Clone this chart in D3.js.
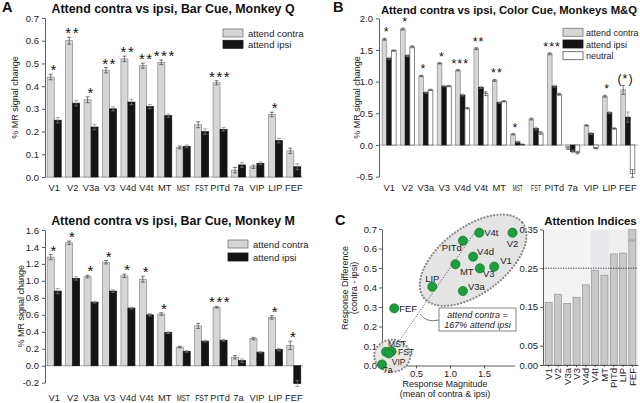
<!DOCTYPE html>
<html>
<head>
<meta charset="utf-8">
<script src="https://cdn.jsdelivr.net/npm/d3@7"></script>
<style>
  body { margin: 0; background: #fff; }
  svg { display: block; font-family: "Liberation Sans", Arial, sans-serif; }
  .axis text { font-size: 9.5px; fill: #222; }
  .axis path, .axis line { stroke: #333; stroke-width: 0.8; }
</style>
</head>
<body>
<svg id="fig" width="640" height="403"></svg>
<script>
// ---- data ----
const areas = ["V1","V2","V3a","V3","V4d","V4t","MT","MST","FST","PITd","7a","VIP","LIP","FEF"];

// A (top): bar cue, monkey Q
const qContra    = [0.44,0.60,0.34,0.47,0.52,0.49,0.505,0.13,0.23,0.415,0.03,0.045,0.275,0.115];
const qContraErr = [0.012,0.015,0.013,0.012,0.012,0.011,0.01,0.006,0.013,0.009,0.012,0.007,0.01,0.012];
const qIpsi      = [0.25,0.325,0.22,0.30,0.33,0.31,0.27,0.135,0.20,0.21,0.053,0.06,0.16,0.045];
const qIpsiErr   = [0.012,0.012,0.012,0.009,0.012,0.009,0.007,0.006,0.012,0.008,0.01,0.006,0.01,0.013];
const qStars     = ["*","**","*","**","**","**","***","","","***","","","*",""];
const qTicks     = [0,0.1,0.2,0.3,0.4,0.5,0.6,0.7];

// A (bottom): bar cue, monkey M
const mContra    = [1.28,1.45,1.05,1.22,1.06,1.02,0.61,0.22,0.47,0.69,0.10,0.32,0.57,0.24];
const mContraErr = [0.03,0.02,0.015,0.02,0.02,0.035,0.015,0.01,0.03,0.01,0.02,0.015,0.02,0.05];
const mIpsi      = [0.88,1.03,0.75,0.88,0.68,0.60,0.39,0.17,0.29,0.30,0.06,0.16,0.19,-0.21];
const mIpsiErr   = [0.03,0.02,0.01,0.015,0.01,0.015,0.01,0.01,0.01,0.01,0.02,0.01,0.015,0.035];
const mStars     = ["*","*","*","*","*","*","*","","","***","","","*","*"];
const mTicks     = [-0.2,0,0.2,0.4,0.6,0.8,1.0,1.2,1.4,1.6];

// B: color cue, monkeys M&Q
const cContra     = [1.67,1.83,1.09,1.29,1.18,1.52,1.02,0.17,0.41,1.44,-0.05,0.31,0.77,0.87];
const cContraErr  = [0.015,0.015,0.01,0.01,0.01,0.015,0.015,0.01,0.015,0.015,0.02,0.01,0.015,0.07];
const cIpsi       = [1.37,1.41,0.83,0.93,0.79,0.91,0.67,0.05,0.26,0.93,-0.10,0.18,0.51,0.44];
const cIpsiErr    = [0.015,0.015,0.01,0.01,0.015,0.015,0.01,0.01,0.02,0.015,0.02,0.015,0.015,0.08];
const cNeutral    = [1.49,1.55,0.87,0.93,0.58,0.81,0.69,0.01,0.19,0.80,-0.12,-0.05,0.26,-0.45];
const cNeutralErr = [0.01,0.015,0.01,0.01,0.01,0.03,0.01,0.005,0.02,0.015,0.02,0.01,0.01,0.06];
const cStars      = ["*","*","*","*","***","**","**","*","","***","","","*","(*)"];
const cTicks      = [-0.5,0,0.5,1.0,1.5,2.0];

// C: scatter, magnitude vs difference
const scatterNames = ["V1","V2","V3a","V3","V4d","V4t","MT","MST","FST","PITd","7a","VIP","LIP","FEF"];
const scatterMag   = [1.65,1.92,1.19,1.44,1.34,1.43,1.08,0.06,0.14,1.19,0.0,0.10,0.74,0.18];
const scatterDiff  = [0.507,0.681,0.382,0.498,0.558,0.681,0.519,0.07,0.072,0.64,0.005,0.062,0.404,0.293];
const scatterXTicks = [0.5,1.0,1.5];
const scatterYTicks = [0,0.1,0.2,0.3,0.4,0.5,0.6,0.7];
const ratioLine = [[0.12,0.06],[1.4,0.7]];   // contra = 167% ipsi  ->  diff = 0.5 * mean

// C: attention indices
const indexNames  = ["V1","V2","V3a","V3","V4d","V4t","MT","PITd","LIP","FEF"];
const indexValues = [0.162,0.183,0.159,0.175,0.207,0.244,0.232,0.287,0.289,0.35];
const indexTicks  = [0,0.05,0.15,0.25,0.35];
const indexRef    = 0.25;

// ---- drawing ----
const svg = d3.select("#fig");
svg.append("rect").attr("width", 640).attr("height", 403).attr("fill", "#fff");

const fmt1 = d => d.toFixed(1);
const narrow = {MST: true, FST: true};

function text(x, y, s, size, opts) {
  opts = opts || {};
  return svg.append("text")
    .attr("x", x).attr("y", y)
    .attr("font-size", size)
    .attr("font-weight", opts.bold ? "bold" : null)
    .attr("font-style", opts.italic ? "italic" : null)
    .attr("text-anchor", opts.anchor || "start")
    .attr("fill", "#111")
    .text(s);
}

function barPanel(p) {
  const x = d3.scaleBand().domain(areas).range([p.left, p.right])
      .paddingInner(p.padInner).paddingOuter(p.padOuter);
  const y = d3.scaleLinear().domain(p.domain).range([p.bottom, p.top]);
  const sub = d3.scaleBand().domain(d3.range(p.series.length)).range([0, x.bandwidth()]);
  const g = svg.append("g");

  // zero line
  g.append("line")
    .attr("x1", p.left).attr("x2", p.right)
    .attr("y1", y(0)).attr("y2", y(0))
    .attr("stroke", "#888").attr("stroke-width", 0.7);

  p.series.forEach((s, k) => {
    const bars = g.append("g");
    areas.forEach((a, i) => {
      const v = s.values[i], e = s.errs[i];
      const bx = x(a) + sub(k), bw = sub.bandwidth();
      bars.append("rect")
        .attr("x", bx).attr("width", bw)
        .attr("y", y(Math.max(0, v)))
        .attr("height", Math.abs(y(v) - y(0)))
        .attr("fill", s.fill).attr("stroke", s.stroke).attr("stroke-width", 0.7);
      const cx = bx + bw / 2, cw = Math.min(2, bw / 2 - 0.5);
      const eb = bars.append("g").attr("stroke", s.errColor).attr("stroke-width", 0.7);
      eb.append("line").attr("x1", cx).attr("x2", cx).attr("y1", y(v - e)).attr("y2", y(v + e));
      eb.append("line").attr("x1", cx - cw).attr("x2", cx + cw).attr("y1", y(v + e)).attr("y2", y(v + e));
      eb.append("line").attr("x1", cx - cw).attr("x2", cx + cw).attr("y1", y(v - e)).attr("y2", y(v - e));
    });
  });

  // significance stars above contra + ipsi pair
  areas.forEach((a, i) => {
    if (!p.stars[i]) return;
    const top = p.series[0].values[i] + p.series[0].errs[i];
    g.append("text")
      .attr("x", x(a) + sub.step()).attr("y", y(top) + p.starDy)
      .attr("text-anchor", "middle")
      .attr("font-size", p.starSize)
      .attr("letter-spacing", p.starSpacing)
      .attr("fill", "#111")
      .text(p.stars[i]);
  });

  g.append("g").attr("class", "axis")
    .attr("transform", `translate(${p.left},0)`)
    .call(d3.axisLeft(y).tickValues(p.ticks).tickFormat(fmt1).tickSize(3).tickSizeOuter(0).tickPadding(3));

  // category labels (MST / FST are set in a condensed face in the original)
  areas.forEach(a => {
    const cx = x(a) + x.bandwidth() / 2;
    const t = g.append("text")
      .attr("text-anchor", "middle").attr("font-size", p.labelSize).attr("fill", "#222")
      .attr("transform", `translate(${cx},${p.labelY})`)
      .text(a);
    if (narrow[a]) {
      const w = t.node().getComputedTextLength();
      t.attr("transform", `translate(${cx},${p.labelY}) scale(${p.narrowLen / w},1)`);
    }
  });

  // y label
  g.append("text")
    .attr("transform", `translate(${p.yLabelX},${(p.top + p.bottom) / 2}) rotate(-90)`)
    .attr("text-anchor", "middle").attr("font-size", 9).attr("fill", "#222")
    .text("% MR signal change");

  // legend
  p.series.forEach((s, k) => {
    const ly = p.legendY + k * p.legendStep;
    g.append("rect").attr("x", p.legendX).attr("y", ly).attr("width", 20).attr("height", 8)
      .attr("fill", s.fill).attr("stroke", s.legendStroke).attr("stroke-width", 0.8);
    g.append("text").attr("x", p.legendX + p.legendGap).attr("y", ly + 7.5)
      .attr("font-size", p.legendSize).attr("fill", "#222").text(s.name);
  });
}

const contraStyle = {fill: "#d6d6d6", stroke: "#8a8a8a", errColor: "#444", legendStroke: "#777"};
const ipsiStyle   = {fill: "#141414", stroke: "#141414", errColor: "#888", legendStroke: "#141414"};
const neutStyle   = {fill: "#ffffff", stroke: "#555", errColor: "#444", legendStroke: "#555"};

// A top
barPanel({
  left: 45, right: 303, top: 18, bottom: 177, domain: [0, 0.7], ticks: qTicks,
  padInner: 0.24, padOuter: 0.12,
  series: [
    Object.assign({name: "attend contra", values: qContra, errs: qContraErr}, contraStyle),
    Object.assign({name: "attend ipsi", values: qIpsi, errs: qIpsiErr}, ipsiStyle)
  ],
  stars: qStars, starSize: 15, starSpacing: 1.5, starDy: 1,
  labelY: 191, labelSize: 9.3, narrowLen: 13, yLabelX: 18,
  legendX: 223, legendY: 29, legendStep: 11.3, legendGap: 25, legendSize: 9.5
});

// A bottom
barPanel({
  left: 45, right: 303, top: 230, bottom: 382.7, domain: [-0.2, 1.6], ticks: mTicks,
  padInner: 0.24, padOuter: 0.12,
  series: [
    Object.assign({name: "attend contra", values: mContra, errs: mContraErr}, contraStyle),
    Object.assign({name: "attend ipsi", values: mIpsi, errs: mIpsiErr}, ipsiStyle)
  ],
  stars: mStars, starSize: 15, starSpacing: 1.5, starDy: 1,
  labelY: 401, labelSize: 9.3, narrowLen: 13, yLabelX: 24,
  legendX: 228, legendY: 240, legendStep: 13, legendGap: 25, legendSize: 9.5
});

// B
barPanel({
  left: 379, right: 638, top: 18.3, bottom: 176.7, domain: [-0.5, 2.0], ticks: cTicks,
  padInner: 0.237, padOuter: 0.17,
  series: [
    Object.assign({name: "attend contra", values: cContra, errs: cContraErr}, contraStyle),
    Object.assign({name: "attend ipsi", values: cIpsi, errs: cIpsiErr}, ipsiStyle),
    Object.assign({name: "neutral", values: cNeutral, errs: cNeutralErr}, neutStyle)
  ],
  stars: cStars, starSize: 12.5, starSpacing: 1, starDy: -2,
  labelY: 191, labelSize: 9.3, narrowLen: 10, yLabelX: 360,
  legendX: 563, legendY: 28.3, legendStep: 11.7, legendGap: 23, legendSize: 9
});

// titles and panel letters
text(2, 12, "A", 14.5, {bold: true});
text(333, 12, "B", 14.5, {bold: true});
text(335, 225, "C", 14.5, {bold: true});
text(173, 13, "Attend contra vs ipsi, Bar Cue, Monkey Q", 12.4, {bold: true, anchor: "middle"});
text(509, 13.5, "Attend contra vs ipsi, Color Cue, Monkeys M&Q", 11.3, {bold: true, anchor: "middle"});
text(173, 225, "Attend contra vs ipsi, Bar Cue, Monkey M", 12.4, {bold: true, anchor: "middle"});
text(590.5, 225, "Attention Indices", 11.4, {bold: true, anchor: "middle"});

// ---- C scatter ----
const sx = d3.scaleLinear().domain([0, 1.95]).range([382, 514.6]);
const sy = d3.scaleLinear().domain([0, 0.7]).range([365.5, 229]);
const sc = svg.append("g");

const dotted = {stroke: "#8a8a8a", "stroke-width": 2.2, "stroke-dasharray": "0.1 3.2", "stroke-linecap": "round"};
function applyAttrs(sel, o) { Object.keys(o).forEach(k => sel.attr(k, o[k])); return sel; }

// cluster outlines (centre in data units, shape in px)
const bigC = [sx(1.34), sy(0.54)];
applyAttrs(sc.append("ellipse")
  .attr("cx", bigC[0]).attr("cy", bigC[1]).attr("rx", 62).attr("ry", 33)
  .attr("transform", `rotate(-37,${bigC[0]},${bigC[1]})`)
  .attr("fill", "#e4e4e4"), dotted);

sc.append("g").attr("class", "axis")
  .attr("transform", "translate(382,0)")
  .call(d3.axisLeft(sy).tickValues(scatterYTicks).tickFormat(fmt1).tickSize(3).tickSizeOuter(0).tickPadding(2));
sc.append("g").attr("class", "axis")
  .attr("transform", `translate(0,${sy(0)})`)
  .call(d3.axisBottom(sx).tickValues(scatterXTicks).tickFormat(fmt1).tickSize(3).tickSizeOuter(0).tickPadding(2));

// small cluster sits over the corner of the axes
const smallC = [sx(0.15), sy(0.05)];
applyAttrs(sc.append("ellipse")
  .attr("cx", smallC[0]).attr("cy", smallC[1]).attr("rx", 18).attr("ry", 16)
  .attr("fill", "#e4e4e4").attr("fill-opacity", 0.85), dotted);

sc.append("line")
  .attr("x1", sx(ratioLine[0][0])).attr("y1", sy(ratioLine[0][1]))
  .attr("x2", sx(ratioLine[1][0])).attr("y2", sy(ratioLine[1][1]))
  .attr("stroke", "#333").attr("stroke-width", 0.8).attr("stroke-dasharray", "1.2 1.6");

// annotation box
sc.append("path").attr("d", "M420,314 Q426,323 439,320")
  .attr("fill", "none").attr("stroke", "#555").attr("stroke-width", 0.8);
sc.append("rect").attr("x", 439).attr("y", 308).attr("width", 77).attr("height", 23)
  .attr("fill", "#fff").attr("stroke", "#666").attr("stroke-width", 0.8);
sc.append("text").attr("x", 477.5).attr("y", 318).attr("text-anchor", "middle")
  .attr("font-size", 9).attr("font-style", "italic").attr("fill", "#222").text("attend contra =");
sc.append("text").attr("x", 477.5).attr("y", 328).attr("text-anchor", "middle")
  .attr("font-size", 9).attr("font-style", "italic").attr("fill", "#222").text("167% attend ipsi");

// label placement (px offsets from point, anchor, size)
const labelPos = {
  V1: [6, -2.5, "start", 9.5], V2: [0, 14, "middle", 9.5], V3a: [5, -1, "start", 9.5],
  V3: [3, 9, "start", 9.5], V4d: [4, -2, "start", 9.5], V4t: [5, 3.5, "start", 9.5],
  MT: [4.5, 11, "start", 9.5], PITd: [-1, 10, "end", 9.5], LIP: [0, -4.5, "middle", 9.5],
  FEF: [5, 3.5, "start", 9.5], MST: [2, -5, "start", 8.5], FST: [6.5, 4, "start", 8.5],
  VIP: [3, 11.2, "start", 8.5], "7a": [1, 8.5, "start", 8.5]
};

scatterNames.forEach((n, i) => {
  sc.append("circle")
    .attr("cx", sx(scatterMag[i])).attr("cy", sy(scatterDiff[i])).attr("r", 4.6)
    .attr("fill", "#1c9e3c").attr("stroke", "#0e7a2a").attr("stroke-width", 0.7);
});
scatterNames.forEach((n, i) => {
  const lp = labelPos[n];
  sc.append("text")
    .attr("x", sx(scatterMag[i]) + lp[0]).attr("y", sy(scatterDiff[i]) + lp[1])
    .attr("text-anchor", lp[2]).attr("font-size", lp[3]).attr("fill", "#222")
    .text(n);
});

sc.append("text").attr("transform", "translate(347.5,288) rotate(-90)")
  .attr("text-anchor", "middle").attr("font-size", 9).attr("fill", "#222").text("Response Difference");
sc.append("text").attr("transform", "translate(356.5,288) rotate(-90)")
  .attr("text-anchor", "middle").attr("font-size", 9).attr("fill", "#222").text("(contra - ipsi)");
sc.append("text").attr("x", 445).attr("y", 387)
  .attr("text-anchor", "middle").attr("font-size", 9).attr("fill", "#222").text("Response Magnitude");
sc.append("text").attr("x", 445).attr("y", 397)
  .attr("text-anchor", "middle").attr("font-size", 9).attr("fill", "#222").text("(mean of contra & ipsi)");

// ---- attention indices ----
const ix = d3.scaleBand().domain(indexNames).range([543, 638]).paddingInner(0.25).paddingOuter(0.235);
const iy = d3.scaleLinear().domain([0, 0.35]).range([365, 229.5]);
const ai = svg.append("g");

const shades = [["V1", "V4d", "#f3f3f3"], ["V4t", "MT", "#e9e9ed"], ["PITd", "FEF", "#efefef"]];
shades.forEach((s, k) => {
  const x0 = k === 0 ? 543 : ix(s[0]) - ix.step() * ix.paddingInner() / 2;
  const x1 = k === shades.length - 1 ? 638 : ix(s[1]) + ix.bandwidth() + ix.step() * ix.paddingInner() / 2;
  ai.append("rect").attr("x", x0).attr("y", iy(0.35)).attr("width", x1 - x0).attr("height", iy(0) - iy(0.35))
    .attr("fill", s[2]);
});

indexNames.forEach((n, i) => {
  ai.append("rect")
    .attr("x", ix(n)).attr("width", ix.bandwidth())
    .attr("y", iy(indexValues[i])).attr("height", iy(0) - iy(indexValues[i]))
    .attr("fill", "#c9c9c9").attr("stroke", "#8a8a8a").attr("stroke-width", 0.6);
});

// axis-break marks on the clipped FEF bar
const fx = ix("FEF"), fy = iy(0.322);
[-1.8, 1.8].forEach(d => {
  ai.append("path")
    .attr("d", `M${fx + ix.bandwidth() / 2 + d - 2},${fy + 1.5} l1.5,-3 M${fx + ix.bandwidth() / 2 + d},${fy + 1.5} l1.5,-3`)
    .attr("stroke", "#999").attr("stroke-width", 0.9).attr("fill", "none");
});

ai.append("line")
  .attr("x1", 543).attr("x2", 638).attr("y1", iy(indexRef)).attr("y2", iy(indexRef))
  .attr("stroke", "#222").attr("stroke-width", 0.9).attr("stroke-dasharray", "1.2 1.3");

ai.append("g").attr("class", "axis")
  .attr("transform", "translate(543,0)")
  .call(d3.axisLeft(iy).tickValues(indexTicks).tickFormat(d => d.toFixed(2)).tickSize(3).tickSizeOuter(0).tickPadding(2));
ai.append("g").attr("class", "axis")
  .attr("transform", `translate(0,${iy(0)})`)
  .call(d3.axisBottom(ix).tickSize(2).tickSizeOuter(0).tickFormat(""));

indexNames.forEach(n => {
  ai.append("text")
    .attr("transform", `translate(${ix(n) + ix.bandwidth() / 2},368) rotate(-90)`)
    .attr("dy", "0.35em").attr("text-anchor", "end")
    .attr("font-size", 9.5).attr("fill", "#222")
    .text(n);
});
</script>
</body>
</html>
